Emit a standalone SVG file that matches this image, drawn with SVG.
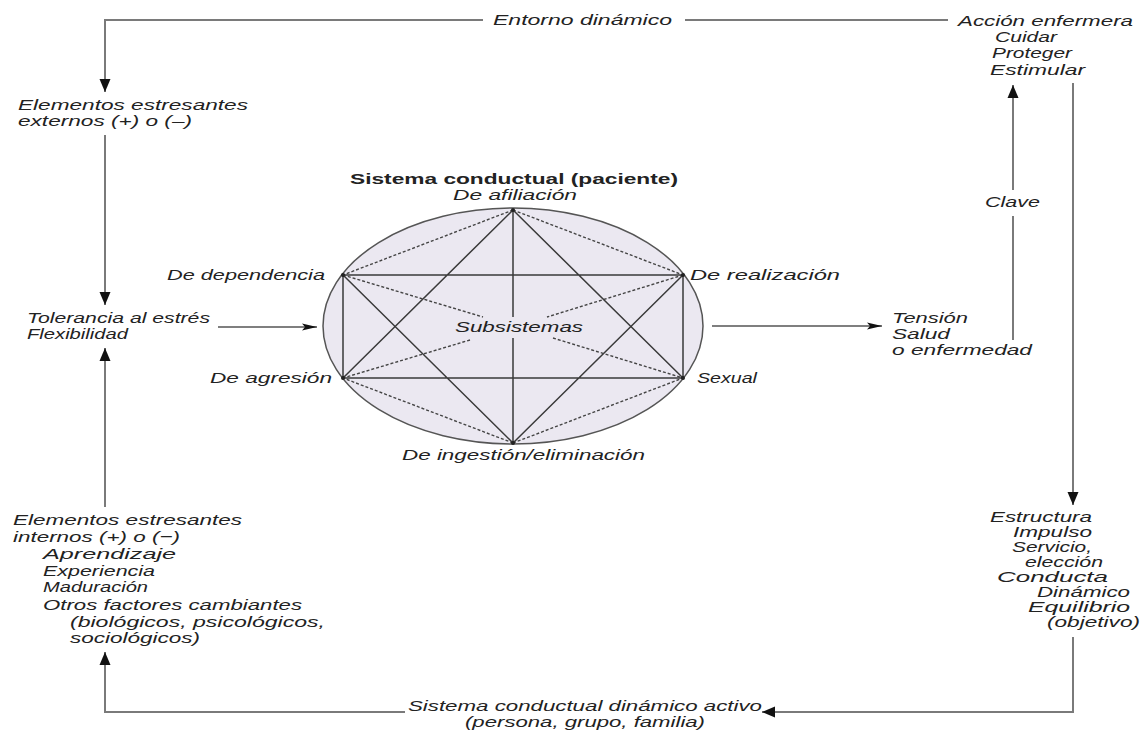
<svg xmlns="http://www.w3.org/2000/svg" width="1147" height="731" viewBox="0 0 1147 731">
<defs>
<marker id="ah" markerUnits="userSpaceOnUse" markerWidth="14" markerHeight="12" refX="13" refY="6" orient="auto"><path d="M0,0.5 L13,6 L0,11.5 z" fill="#111"/></marker>
<marker id="ahs" markerUnits="userSpaceOnUse" markerWidth="16" markerHeight="8" refX="15" refY="4" orient="auto"><path d="M0,0.5 L15,4 L0,7.5 L3,4 z" fill="#111"/></marker>
<style>
.t{font-family:"Liberation Sans",Arial,sans-serif;font-size:15.5px;font-style:italic;fill:#222}
.n{font-size:14px}
.b{font-family:"Liberation Sans",Arial,sans-serif;font-size:15.5px;font-weight:bold;fill:#222}
.f{fill:none;stroke:#7a7a7a;stroke-width:2}
.m{fill:none;stroke:#555;stroke-width:1.3}
.s{stroke:#3a3a3a;stroke-width:1.5;fill:none}
.d{stroke:#444;stroke-width:1.4;stroke-dasharray:3 2;fill:none}
</style>
</defs>
<rect width="1147" height="731" fill="#fff"/>
<g id="connectors">
<path class="f" d="M483,20 H105 V92" marker-end="url(#ah)"/>
<path class="f" d="M685,20 H948"/>
<path class="f" d="M105,135 V305" marker-end="url(#ah)"/>
<path class="f" d="M105,507 V348" marker-end="url(#ah)"/>
<path class="f" d="M405,712 H105 V652" marker-end="url(#ah)"/>
<path class="f" d="M1073,83 V505" marker-end="url(#ah)"/>
<path class="f" d="M1073,637 V712 H762" marker-end="url(#ah)"/>
<path class="f" d="M1013,340 V216"/>
<path class="f" d="M1013,190 V85" marker-end="url(#ah)"/>
<path class="m" d="M218,327 H317" marker-end="url(#ahs)"/>
<path class="m" d="M712,326 H882" marker-end="url(#ahs)"/>
</g>
<g id="sistema">
<ellipse cx="513" cy="326" rx="190" ry="118" fill="#ebe8f1" stroke="#555" stroke-width="1.5"/>
<path class="s" d="M513,210 V317 M513,338 V443 M343,275 H683 M343,378 H683 M343,275 V378 M683,275 V378 M513,210 L343,378 M513,210 L683,378 M513,443 L343,275 M513,443 L683,275"/>
<path class="d" d="M513,210 L343,275 M513,210 L683,275 M513,443 L343,378 M513,443 L683,378 M343,275 L483,317 M553,338 L683,378 M683,275 L547,317 M470,340 L343,378"/>
<g fill="#222"><circle cx="513" cy="210" r="2"/><circle cx="343" cy="275" r="2"/><circle cx="683" cy="275" r="2"/><circle cx="343" cy="378" r="2"/><circle cx="683" cy="378" r="2"/><circle cx="513" cy="443" r="2"/></g>
<text class="b" x="350" y="184" textLength="328" lengthAdjust="spacingAndGlyphs">Sistema conductual (paciente)</text>
<text class="t" x="455" y="332" textLength="128" lengthAdjust="spacingAndGlyphs">Subsistemas</text>
</g>
<g id="afiliacion"><text class="t" x="453" y="200" textLength="124" lengthAdjust="spacingAndGlyphs">De afiliación</text></g>
<g id="dependencia"><text class="t" x="167" y="280" textLength="158" lengthAdjust="spacingAndGlyphs">De dependencia</text></g>
<g id="realizacion"><text class="t" x="690" y="280" textLength="150" lengthAdjust="spacingAndGlyphs">De realización</text></g>
<g id="agresion"><text class="t" x="210" y="383" textLength="122" lengthAdjust="spacingAndGlyphs">De agresión</text></g>
<g id="sexual"><text class="t" x="697" y="383" textLength="60" lengthAdjust="spacingAndGlyphs">Sexual</text></g>
<g id="ingestion"><text class="t" x="402" y="460" textLength="243" lengthAdjust="spacingAndGlyphs">De ingestión/eliminación</text></g>
<g id="entorno"><text class="t" x="493" y="25" textLength="179" lengthAdjust="spacingAndGlyphs">Entorno dinámico</text></g>
<g id="accion">
<text class="t" x="958" y="26" textLength="175" lengthAdjust="spacingAndGlyphs">Acción enfermera</text>
<text class="t" x="995" y="42" textLength="62" lengthAdjust="spacingAndGlyphs">Cuidar</text>
<text class="t" x="992" y="58" textLength="80" lengthAdjust="spacingAndGlyphs">Proteger</text>
<text class="t" x="990" y="75" textLength="95" lengthAdjust="spacingAndGlyphs">Estimular</text>
</g>
<g id="externos">
<text class="t" x="18" y="110" textLength="230" lengthAdjust="spacingAndGlyphs">Elementos estresantes</text>
<text class="t" x="18" y="126" textLength="174" lengthAdjust="spacingAndGlyphs">externos (+) o (–)</text>
</g>
<g id="tolerancia">
<text class="t n" x="27" y="323" textLength="183" lengthAdjust="spacingAndGlyphs">Tolerancia al estrés</text>
<text class="t n" x="27" y="339" textLength="101" lengthAdjust="spacingAndGlyphs">Flexibilidad</text>
</g>
<g id="tension">
<text class="t" x="892" y="323" textLength="76" lengthAdjust="spacingAndGlyphs">Tensión</text>
<text class="t" x="892" y="339" textLength="58" lengthAdjust="spacingAndGlyphs">Salud</text>
<text class="t" x="892" y="355" textLength="140" lengthAdjust="spacingAndGlyphs">o enfermedad</text>
</g>
<g id="clave"><text class="t" x="985" y="207" textLength="55" lengthAdjust="spacingAndGlyphs">Clave</text></g>
<g id="internos">
<text class="t" x="13" y="525" textLength="229" lengthAdjust="spacingAndGlyphs">Elementos estresantes</text>
<text class="t" x="13" y="542" textLength="167" lengthAdjust="spacingAndGlyphs">internos (+) o (−)</text>
<text class="t" x="43" y="559" textLength="133" lengthAdjust="spacingAndGlyphs">Aprendizaje</text>
<text class="t" x="43" y="576" textLength="112" lengthAdjust="spacingAndGlyphs">Experiencia</text>
<text class="t" x="43" y="592" textLength="105" lengthAdjust="spacingAndGlyphs">Maduración</text>
<text class="t" x="43" y="610" textLength="259" lengthAdjust="spacingAndGlyphs">Otros factores cambiantes</text>
<text class="t" x="70" y="627" textLength="255" lengthAdjust="spacingAndGlyphs">(biológicos, psicológicos,</text>
<text class="t" x="70" y="643" textLength="130" lengthAdjust="spacingAndGlyphs">sociológicos)</text>
</g>
<g id="estructura">
<text class="t n" x="990" y="522" textLength="102" lengthAdjust="spacingAndGlyphs">Estructura</text>
<text class="t n" x="1013" y="537" textLength="79" lengthAdjust="spacingAndGlyphs">Impulso</text>
<text class="t n" x="1012" y="552" textLength="80" lengthAdjust="spacingAndGlyphs">Servicio,</text>
<text class="t n" x="1025" y="567" textLength="78" lengthAdjust="spacingAndGlyphs">elección</text>
<text class="t n" x="997" y="582" textLength="111" lengthAdjust="spacingAndGlyphs">Conducta</text>
<text class="t n" x="1037" y="597" textLength="93" lengthAdjust="spacingAndGlyphs">Dinámico</text>
<text class="t n" x="1028" y="612" textLength="102" lengthAdjust="spacingAndGlyphs">Equilibrio</text>
<text class="t n" x="1047" y="627" textLength="93" lengthAdjust="spacingAndGlyphs">(objetivo)</text>
</g>
<g id="activo">
<text class="t" x="408" y="711" textLength="354" lengthAdjust="spacingAndGlyphs">Sistema conductual dinámico activo</text>
<text class="t" x="465" y="727" textLength="240" lengthAdjust="spacingAndGlyphs">(persona, grupo, familia)</text>
</g>
</svg>
